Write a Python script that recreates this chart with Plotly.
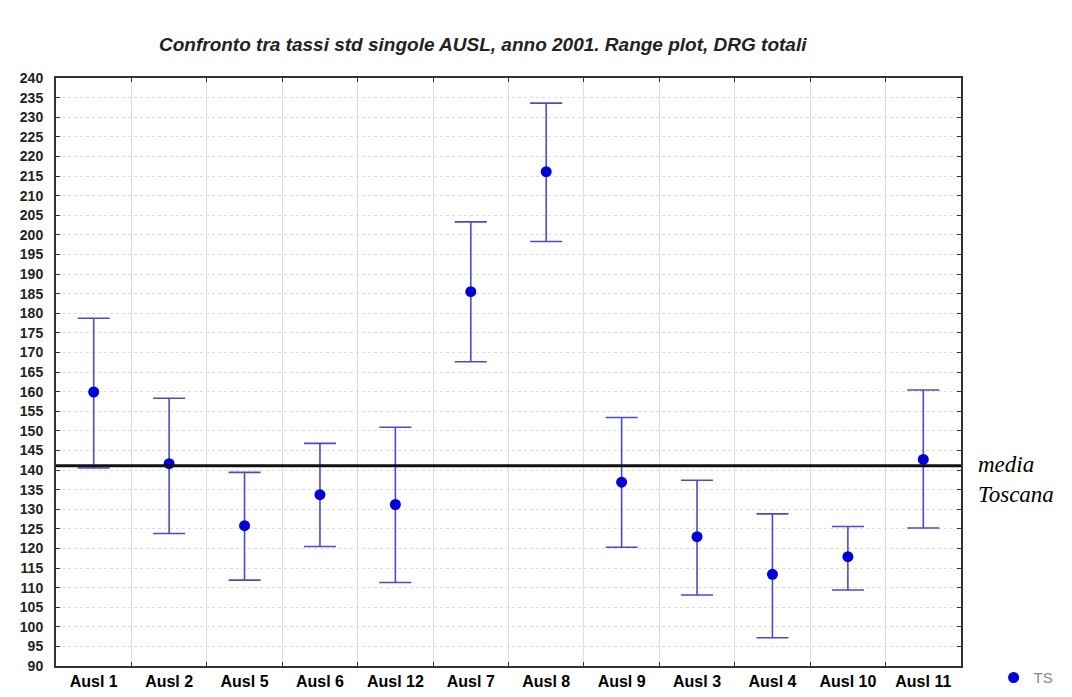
import plotly.graph_objects as go

categories = ["Ausl 1", "Ausl 2", "Ausl 5", "Ausl 6", "Ausl 12", "Ausl 7",
              "Ausl 8", "Ausl 9", "Ausl 3", "Ausl 4", "Ausl 10", "Ausl 11"]
ts_values = [159.9, 141.6, 125.8, 133.7, 131.2, 185.5, 216.1, 136.9, 123.0, 113.4, 117.9, 142.7]
upper_values = [178.7, 158.3, 139.4, 146.8, 150.9, 203.3, 233.6, 153.4, 137.4, 128.8, 125.6, 160.4]
lower_values = [140.5, 123.8, 111.9, 120.5, 111.3, 167.6, 198.3, 120.3, 108.1, 97.2, 109.4, 125.2]
media_toscana = 141.1
y_ticks = list(range(90, 241, 5))

err_plus = [u - v for u, v in zip(upper_values, ts_values)]
err_minus = [v - l for v, l in zip(ts_values, lower_values)]

fig = go.Figure()
fig.add_trace(go.Scatter(
    x=categories, y=ts_values, mode="markers", name="TS",
    marker=dict(color="#0000d8", size=11),
    error_y=dict(type="data", symmetric=False, array=err_plus, arrayminus=err_minus,
                 color="#4a4ad0", thickness=1.6, width=16),
))

fig.add_shape(type="line", xref="paper", yref="y", x0=0, x1=1,
              y0=media_toscana, y1=media_toscana,
              line=dict(color="#111111", width=3))

fig.add_annotation(xref="paper", yref="y", x=1.017, y=media_toscana - 3.5,
                   xanchor="left", yanchor="middle", align="left", showarrow=False,
                   text="<i>media<br>Toscana</i>",
                   font=dict(family="Liberation Serif", size=23, color="#000000"))

fig.add_annotation(xref="paper", yref="paper", x=0.472, y=1.0,
                   yshift=34, xanchor="center", yanchor="middle", showarrow=False,
                   text="<b><i>Confronto tra tassi std singole AUSL, anno 2001. Range plot, DRG totali</i></b>",
                   font=dict(family="Liberation Sans", size=19, color="#222222"))

fig.update_layout(
    width=1072, height=697,
    margin=dict(l=56, r=111, t=78, b=31, autoexpand=False),
    paper_bgcolor="white", plot_bgcolor="white",
    showlegend=True,
    legend=dict(x=1.036, y=-0.02, xanchor="left", yanchor="middle",
                font=dict(family="Liberation Sans", size=15, color="#888888"),
                bgcolor="rgba(0,0,0,0)"),
    font=dict(family="Liberation Sans"),
)

fig.update_xaxes(
    type="category", tickson="boundaries", range=[-0.5, 11.5],
    showline=True, linecolor="#333333", linewidth=2, mirror="ticks",
    ticks="inside", ticklen=4, tickcolor="#333333",
    showgrid=True, gridcolor="#dddddd", gridwidth=1,
    tickfont=dict(family="Liberation Sans", size=16, color="#000000", weight="bold"),
)
fig.update_yaxes(
    range=[90, 240], tickvals=y_ticks, ticktext=[str(v) for v in y_ticks],
    showline=True, linecolor="#333333", linewidth=2, mirror="ticks",
    ticks="inside", ticklen=4, tickcolor="#333333",
    showgrid=True, gridcolor="#dddddd", gridwidth=1, griddash="dot",
    zeroline=False,
    ticklabelstandoff=8,
    tickfont=dict(family="Liberation Sans", size=14, color="#222222", weight="bold"),
)

fig.write_html("out.html")
